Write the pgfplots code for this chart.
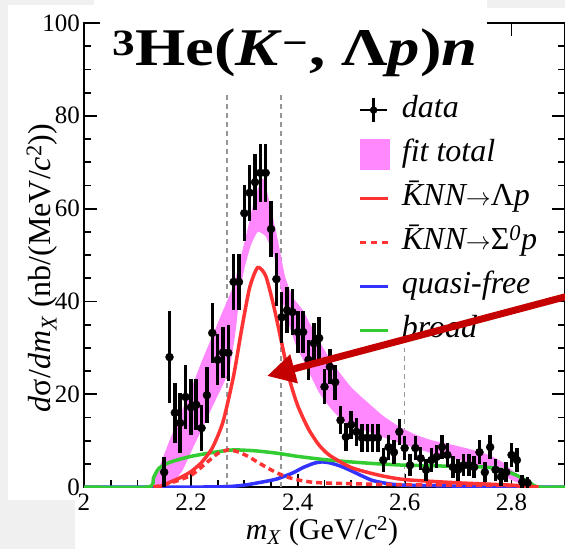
\documentclass[border=0pt]{standalone}
\usepackage{fontspec}
\setmainfont{Liberation Serif}
\usepackage{pgfplots}
\usepackage{pgfplotstable}
\pgfplotsset{compat=1.18}
\usetikzlibrary{arrows.meta}

\definecolor{bgg}{RGB}{240,240,240}
\definecolor{bandc}{RGB}{255,136,255}
\definecolor{cred}{RGB}{255,51,51}
\definecolor{cblue}{RGB}{51,51,255}
\definecolor{cgreen}{RGB}{51,204,51}
\definecolor{arrowred}{RGB}{196,0,0}
\definecolor{dgray}{RGB}{150,150,150}

\pgfplotstableread{
x y e
2.15 3.2 3.2
2.16 28 10
2.17 16 6.5
2.18 13.8 6.5
2.19 19.4 7
2.20 17.2 6
2.21 17.7 5.5
2.22 12.7 5
2.23 19.8 6
2.24 33.2 6.5
2.25 27.4 5.5
2.26 29 5.5
2.27 28.9 6
2.28 44.2 6
2.29 44.2 6
2.30 59 6
2.31 63.4 6
2.32 65.7 6
2.33 67.7 6.2
2.34 67.7 6.3
2.35 55.6 6
2.36 44.8 5.7
2.37 36.6 5.5
2.38 38.1 5
2.39 37.7 5
2.40 33.4 4.5
2.41 33.4 4.5
2.42 27.4 4.3
2.43 31 4.3
2.44 32.1 4.5
2.45 21.6 3.8
2.46 25.9 3.8
2.47 22.6 3.8
2.48 14.4 3
2.49 10.8 3
2.50 13.4 3
2.51 11.9 3
2.52 10.6 3
2.53 10.6 3
2.54 10.6 3
2.55 10.6 3
2.56 5.8 2.6
2.57 8.6 2.7
2.58 7.5 2.6
2.59 11.9 2.8
2.60 8.4 2.6
2.61 4.7 2.4
2.62 8.4 2.6
2.63 6.2 2.5
2.64 3.7 2.3
2.65 5.8 2.5
2.66 6.5 2.5
2.67 8.6 2.6
2.68 6.9 2.5
2.69 4.3 2.3
2.70 3.7 2.3
2.71 4.7 2.4
2.72 4.7 2.4
2.73 4.3 2.3
2.74 7.5 2.6
2.75 3.2 2.2
2.76 8.6 2.6
2.77 3.7 2.3
2.78 2.2 2
2.79 3.2 2.2
2.80 6.9 2.5
2.81 5.8 2.5
2.82 1.1 1.5
2.83 0.9 1.3
}\datatab

% fit-total band: upper edge left to right, then lower edge right to left
\pgfplotstableread{
x y
2.12 0
2.13 1.5
2.14 4
2.16 10
2.18 15.5
2.20 21
2.22 27
2.24 32.5
2.26 38
2.28 43.5
2.29 48
2.305 55
2.32 62.5
2.335 66.5
2.348 61
2.363 53
2.376 45.5
2.39 41
2.41 38
2.435 32.5
2.465 26.7
2.50 21.5
2.53 18.3
2.56 15.3
2.59 13
2.62 11.3
2.65 10.1
2.70 8.8
2.74 7.6
2.765 6.5
2.785 5.2
2.80 3.7
2.82 2
2.84 0.4
2.85 0
2.835 0
2.80 1.5
2.765 3.7
2.716 5.4
2.65 7.3
2.59 9.5
2.53 12
2.49 13.8
2.465 16.5
2.44 20.3
2.41 27.4
2.395 31
2.379 36.6
2.372 40
2.365 45
2.355 50
2.34 54
2.325 55
2.312 52
2.30 47
2.292 42
2.283 33
2.273 26
2.262 22.5
2.249 19.4
2.233 15.5
2.217 11.6
2.20 7.5
2.185 3.7
2.17 1.5
2.15 0
}\bandtab

\pgfplotstableread{
x y
2.14 0
2.16 1
2.18 2
2.20 3.3
2.22 5.3
2.24 8.4
2.26 14
2.28 24
2.295 34
2.31 43
2.325 47.3
2.34 45.5
2.355 39
2.37 31
2.385 23
2.40 17.5
2.42 12.5
2.44 9
2.46 6.8
2.50 4.2
2.55 2.6
2.60 1.6
2.70 0.9
2.80 0.4
2.85 0
}\redtab

\pgfplotstableread{
x y
2.13 0
2.16 0.8
2.20 2.5
2.23 5.3
2.25 7.2
2.27 8
2.29 7.5
2.31 6.4
2.33 5
2.36 3.1
2.39 1.8
2.43 1
2.50 0.7
2.60 0.5
2.80 0.3
2.85 0
}\redsig

\pgfplotstableread{
x y
2.00 0
2.12 0
2.13 2
2.14 4
2.16 5.3
2.20 6.6
2.25 7.6
2.28 8
2.32 7.8
2.36 7.3
2.40 6.6
2.45 5.9
2.50 5.4
2.55 5
2.60 4.7
2.65 4.6
2.70 4.4
2.75 4.3
2.78 3.8
2.81 2.5
2.83 1.2
2.85 0
2.90 0
}\greentab

\pgfplotstableread{
x y
2.00 0
2.22 0
2.27 0.1
2.30 0.4
2.33 1
2.36 1.7
2.39 3
2.41 4.2
2.43 5.1
2.445 5.4
2.46 5.2
2.48 4.5
2.50 3.5
2.52 2.4
2.54 1.4
2.57 0.7
2.60 0.4
2.70 0.2
2.85 0
2.90 0
}\bluetab

\begin{document}
\begin{tikzpicture}
\fill[bgg] (0,0) rectangle (565pt,-549pt);
\fill[white] (8pt,-5pt) rectangle (565pt,-549pt);
\fill[white] (94pt,0pt) rectangle (487pt,-6pt);
\fill[bgg] (0,-500pt) rectangle (75pt,-549pt);
\fill[bgg] (487pt,0) rectangle (565pt,-8pt);

\begin{axis}[
  at={(84pt,-487pt)}, anchor=south west,
  scale only axis, width=481pt, height=464pt,
  xmin=2, xmax=2.9, ymin=0, ymax=100,
  xtick={2,2.2,2.4,2.6,2.8}, minor x tick num=3,
  ytick={0,20,40,60,80,100}, minor y tick num=3,
  tick align=inside,
  major tick length=13pt, minor tick length=7pt,
  axis line style={line width=2pt, black},
  every tick/.style={black, line width=1.8pt},
  ticklabel style={font=\fontsize{25}{28}\selectfont},
  /pgf/number format/assume math mode=true,
  xticklabel style={/pgf/number format/fixed, inner sep=0pt, yshift=-7pt},
  yticklabel style={anchor=east, inner sep=0pt, xshift=-4pt},
  legend style={at={(0.570,0.845)}, anchor=north west, draw=none, fill=none,
    inner sep=0pt, font=\fontsize{32}{36}\selectfont\itshape,
    row sep=14pt, column sep=12pt,
    nodes={inner sep=0pt, text height=22pt, text depth=8pt}},
  legend cell align=left,
]
% dashed region lines
\addplot[dgray, line width=1.5pt, dash pattern=on 5pt off 4pt, forget plot] coordinates {(2.268,0) (2.268,85)};
\addplot[dgray, line width=1.5pt, dash pattern=on 5pt off 4pt, forget plot] coordinates {(2.369,0) (2.369,85)};
\addplot[dgray, line width=1.5pt, dash pattern=on 5pt off 4pt, forget plot] coordinates {(2.6,0) (2.6,30)};
% band
\addplot[fill=bandc, draw=none, smooth, tension=0.3, forget plot] table[x=x,y=y] {\bandtab} -- cycle;
% curves
\addplot[cblue, line width=3.5pt, smooth, tension=0.4, forget plot] table[x=x,y=y] {\bluetab};
\addplot[cgreen, line width=3.5pt, smooth, tension=0.4, forget plot] table[x=x,y=y] {\greentab};
\addplot[cred, line width=3.5pt, dash pattern=on 6pt off 4pt, smooth, tension=0.4, forget plot] table[x=x,y=y] {\redsig};
\addplot[cred, line width=3.5pt, smooth, tension=0.4, forget plot] table[x=x,y=y] {\redtab};
% data
\addplot[black, only marks, mark=*, mark size=4pt, forget plot,
  error bars/.cd, y dir=both, y explicit, error mark=none,
  error bar style={line width=3.5pt, black}]
  table[x=x, y=y, y error=e] {\datatab};

\addlegendimage{legend image code/.code={
  \draw[black, line width=2.5pt] (0pt,0pt) -- (27pt,0pt);
  \draw[black, line width=3.5pt] (13.5pt,-12pt) -- (13.5pt,12pt);
  \fill[black] (13.5pt,0pt) circle (3.5pt);}}
\addlegendentry{data}
\addlegendimage{legend image code/.code={
  \fill[bandc] (0pt,-15pt) rectangle (29pt,15pt);}}
\addlegendentry{fit total}
\addlegendimage{legend image code/.code={
  \draw[cred, line width=3.5pt] (0pt,0pt) -- (28pt,0pt);}}
\addlegendentry{\={K}NN$\rightarrow$\upshape Λ\itshape p}
\addlegendimage{legend image code/.code={
  \draw[cred, line width=3.5pt, dash pattern=on 6pt off 5pt] (0pt,0pt) -- (28pt,0pt);}}
\addlegendentry{\={K}NN$\rightarrow$\upshape Σ\textsuperscript{\itshape 0}\itshape p}
\addlegendimage{legend image code/.code={
  \draw[cblue, line width=3.5pt] (0pt,0pt) -- (28pt,0pt);}}
\addlegendentry{quasi-free}
\addlegendimage{legend image code/.code={
  \draw[cgreen, line width=3.5pt] (0pt,0pt) -- (28pt,0pt);}}
\addlegendentry{broad}
\end{axis}

% title box and title
\fill[white] (100pt,0pt) rectangle (487pt,-88pt);
\node[anchor=base west, inner sep=0pt] at (112pt,-65pt)
  {\scalebox{1.22}[1]{\fontsize{53}{53}\selectfont\bfseries\textsuperscript{3}He(\textit{K}\textsuperscript{−}, Λ\textit{p})\textit{n}}};
% axis labels
\node[rotate=90, inner sep=0pt] at (42pt,-268pt)
  {\fontsize{32}{36}\selectfont\textit{d}σ/\textit{dm}\textsubscript{\textit{X}} (nb/(MeV/\textit{c}\textsuperscript{2}))};
\node[inner sep=0pt] at (322pt,-531pt)
  {\fontsize{30}{34}\selectfont\textit{m}\textsubscript{\textit{X}} (GeV/\textit{c}\textsuperscript{2})};
% arrow
\draw[arrowred, line width=7pt, -{Triangle[length=28pt,width=28pt]}] (572pt,-295pt) -- (267pt,-376pt);
\pgfresetboundingbox
\useasboundingbox (0,0) rectangle (565pt,-549pt);
\end{tikzpicture}
\end{document}
